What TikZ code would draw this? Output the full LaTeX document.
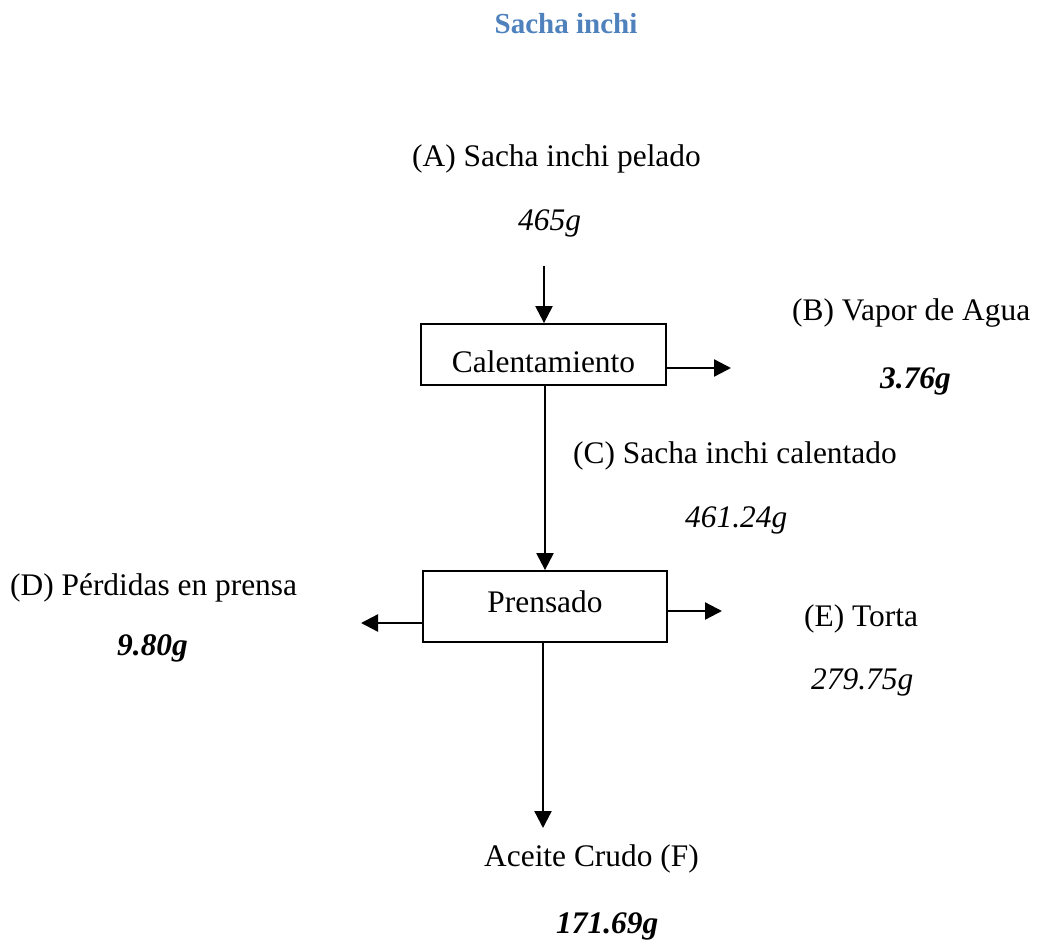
\documentclass[tikz,border=0pt]{standalone}
\usepackage{fontspec}
\setmainfont{Liberation Serif}
\usetikzlibrary{arrows.meta}
\definecolor{titleblue}{HTML}{4F81BD}
\begin{document}
\begin{tikzpicture}[x=1pt,y=-1pt,
  every node/.style={inner sep=0pt, font=\fontsize{31.4}{37}\selectfont},
  lbl/.style={anchor=base west},
  qty/.style={anchor=base west, font=\fontsize{31.4}{37}\selectfont\itshape},
  bqty/.style={anchor=base west, font=\fontsize{31.4}{37}\selectfont\bfseries\itshape},
  procbox/.style={draw, line width=1.8pt, rectangle},
  flow/.style={line width=2.3pt, -{Triangle[length=17pt,width=17pt]}}]
  \useasboundingbox (0,0) rectangle (1044,942);

  % title
  \node[anchor=base, text=titleblue, font=\fontsize{29}{35}\selectfont\bfseries] (title) at (566,34) {Sacha inchi};

  % process boxes
  \node[procbox, minimum width=245pt, minimum height=61pt, text height=35pt, text depth=0pt] (cal) at (543.5,354.5) {Calentamiento};
  \node[procbox, minimum width=244pt, minimum height=71pt, text height=22pt, text depth=11pt] (pren) at (545,606.5) {Prensado};

  % stream labels
  \node[lbl]  (A)  at (412,166) {(A) Sacha inchi pelado};
  \node[qty]  (Aq) at (518,230) {465g};
  \node[lbl]  (B)  at (792,320) {(B) Vapor de Agua};
  \node[bqty] (Bq) at (880,388) {3.76g};
  \node[lbl]  (C)  at (573,463) {(C) Sacha inchi calentado};
  \node[qty]  (Cq) at (685,527) {461.24g};
  \node[lbl]  (D)  at (10,595)  {(D) Pérdidas en prensa};
  \node[bqty] (Dq) at (117,655) {9.80g};
  \node[lbl]  (E)  at (804,626) {(E) Torta};
  \node[qty]  (Eq) at (811,689) {279.75g};
  \node[lbl]  (F)  at (484,866) {Aceite Crudo (F)};
  \node[bqty] (Fq) at (556,933) {171.69g};

  % free ends of the streams
  \coordinate (inA)  at (544,266);
  \coordinate (outB) at (731,368);
  \coordinate (outD) at (361,623);
  \coordinate (outE) at (722,611);
  \coordinate (outF) at (543,828);

  % flows
  \draw[flow] (inA) -- (inA |- cal.north);
  \draw[flow] (cal.east |- outB) -- (outB);
  \draw[flow] (cal.south -| pren.north) -- (pren.north);
  \draw[flow] (pren.west |- outD) -- (outD);
  \draw[flow] (pren.east |- outE) -- (outE);
  \draw[flow] (pren.south -| outF) -- (outF);
\end{tikzpicture}
\end{document}
